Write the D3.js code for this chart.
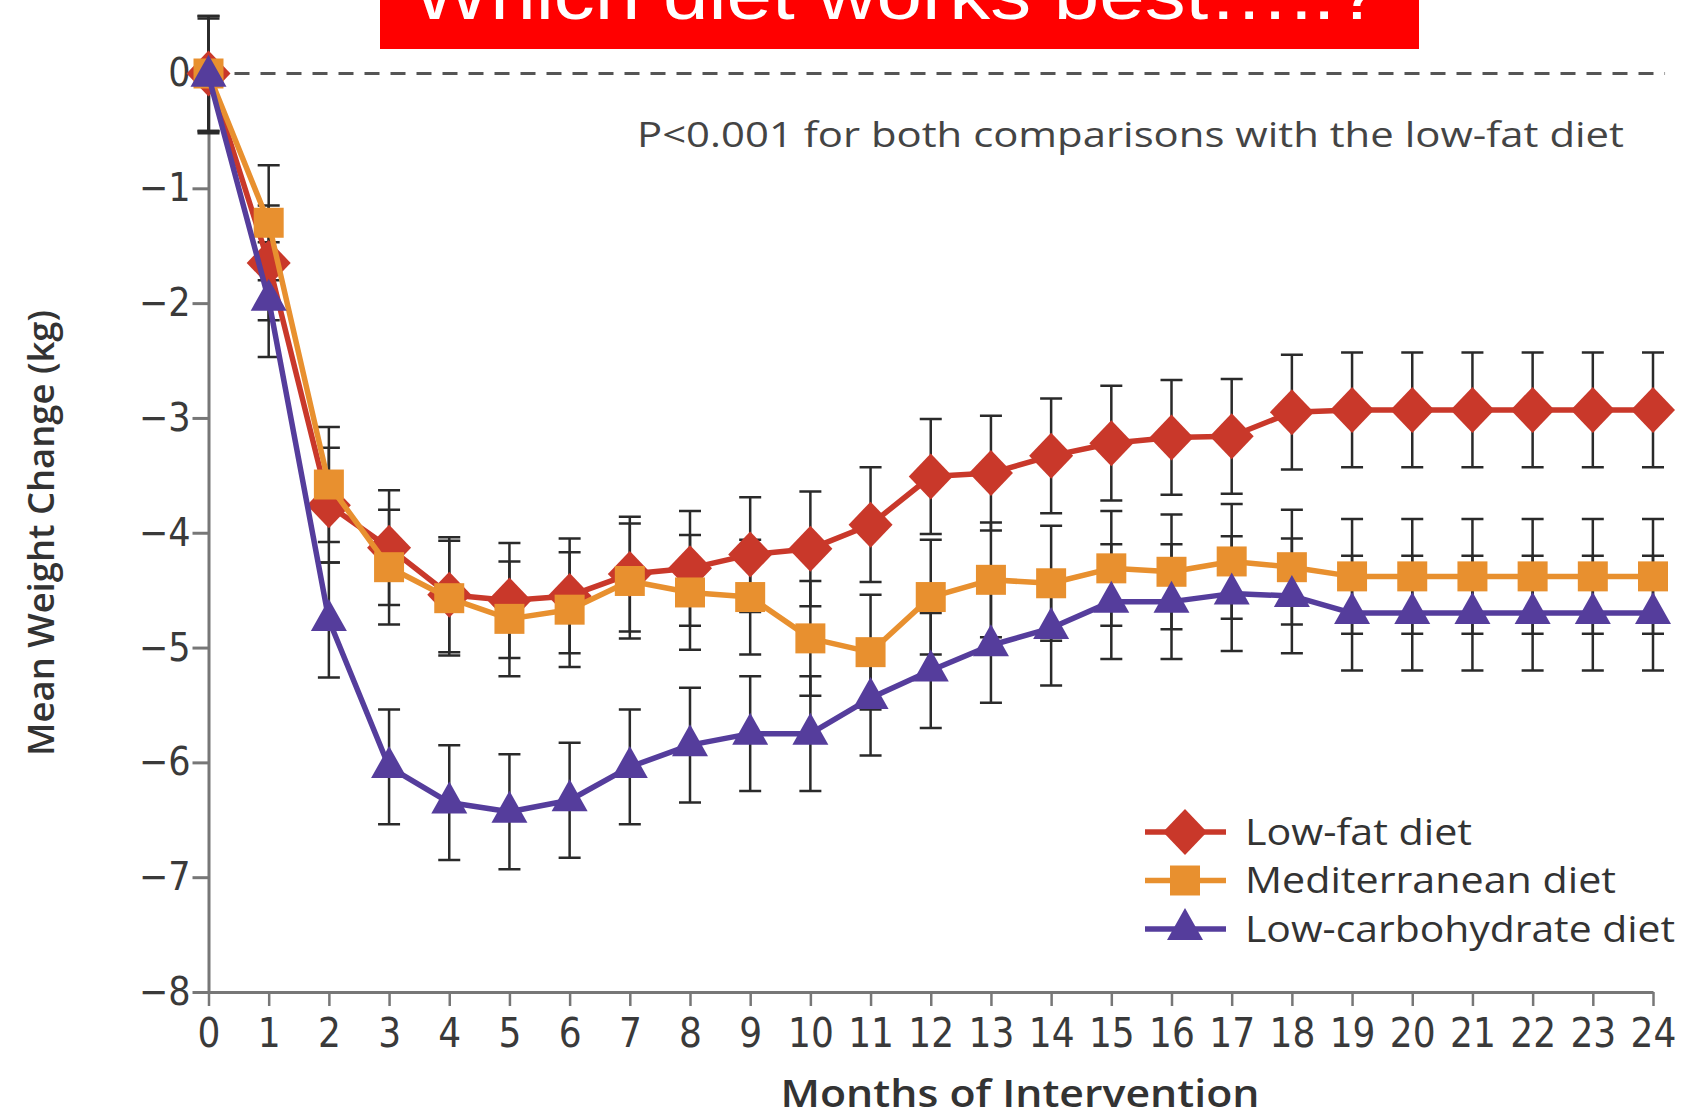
<!DOCTYPE html>
<html>
<head>
<meta charset="utf-8">
<script src="https://cdn.jsdelivr.net/npm/d3@7"></script>
<style>
  body { margin: 0; background: #fff; }
  svg { display: block; }
</style>
</head>
<body>
<svg id="chart" width="1694" height="1119"></svg>
<script>
// months on the x axis
const months = [0, 1, 2, 3, 4, 5, 6, 7, 8, 9, 10, 11, 12, 13, 14, 15, 16, 17, 18, 19, 20, 21, 22, 23, 24];
const yTicks = [0, -1, -2, -3, -4, -5, -6, -7, -8];

// mean weight change (kg)
const lowFat = [0, -1.65, -3.76, -4.13, -4.54, -4.59, -4.55, -4.36, -4.31, -4.19, -4.14, -3.93, -3.51, -3.48, -3.33, -3.22, -3.17, -3.16, -2.95, -2.93, -2.93, -2.93, -2.93, -2.93, -2.93];
const mediterranean = [0, -1.3, -3.58, -4.3, -4.57, -4.75, -4.67, -4.42, -4.52, -4.56, -4.92, -5.04, -4.56, -4.41, -4.44, -4.31, -4.34, -4.25, -4.3, -4.38, -4.38, -4.38, -4.38, -4.38, -4.38];
const lowCarb = [-0.02, -1.97, -4.76, -6.04, -6.35, -6.43, -6.33, -6.04, -5.85, -5.75, -5.75, -5.44, -5.2, -4.98, -4.83, -4.6, -4.6, -4.53, -4.55, -4.7, -4.7, -4.7, -4.7, -4.7, -4.7];

// half-length of error bars (kg)
const lowFatErr = [0.5, 0.5, 0.5, 0.5, 0.5, 0.5, 0.5, 0.5, 0.5, 0.5, 0.5, 0.5, 0.5, 0.5, 0.5, 0.5, 0.5, 0.5, 0.5, 0.5, 0.5, 0.5, 0.5, 0.5, 0.5];
const mediterraneanErr = [0.5, 0.5, 0.5, 0.5, 0.5, 0.5, 0.5, 0.5, 0.5, 0.5, 0.5, 0.5, 0.5, 0.5, 0.5, 0.5, 0.5, 0.5, 0.5, 0.5, 0.5, 0.5, 0.5, 0.5, 0.5];
const lowCarbErr = [0.5, 0.5, 0.5, 0.5, 0.5, 0.5, 0.5, 0.5, 0.5, 0.5, 0.5, 0.5, 0.5, 0.5, 0.5, 0.5, 0.5, 0.5, 0.5, 0.5, 0.5, 0.5, 0.5, 0.5, 0.5];

const seriesNames = ["Low-fat diet", "Mediterranean diet", "Low-carbohydrate diet"];
const legendWidths = [227, 371, 430];

const series = [
    { name: seriesNames[0], values: lowFat, err: lowFatErr, color: "#c9382a", shape: "diamond" },
    { name: seriesNames[1], values: mediterranean, err: mediterraneanErr, color: "#e8902f", shape: "square" },
    { name: seriesNames[2], values: lowCarb, err: lowCarbErr, color: "#553d9c", shape: "triangle" }
];

const svg = d3.select("#chart");

const x = d3.scaleLinear().domain([0, 24]).range([208.5, 1653]);
const y = d3.scaleLinear().domain([-8, 0]).range([992, 73.5]);

const tickFont = "'Liberation Sans Narrow', 'DejaVu Sans Condensed', 'Open Sans', sans-serif";
const textFont = "'Open Sans', 'Lato', sans-serif";
const axisColor = "#777";

// title banner
svg.append("rect")
    .attr("x", 380).attr("y", 0)
    .attr("width", 1039).attr("height", 49)
    .attr("fill", "#ff0000");

svg.append("text")
    .attr("x", 413).attr("y", 19)
    .attr("textLength", 968)
    .attr("lengthAdjust", "spacingAndGlyphs")
    .style("font-family", "'Liberation Sans', Arial, sans-serif")
    .style("font-size", "70px")
    .style("fill", "#fff")
    .text("Which diet works best\u2026..?");

// y axis
const yAxis = svg.append("g")
    .attr("transform", `translate(${x(0)},0)`)
    .call(d3.axisLeft(y).tickValues(yTicks).tickSize(16).tickSizeOuter(0)
        .tickFormat(d => d === 0 ? "0" : "\u2212" + Math.abs(d)));

yAxis.select(".domain").attr("stroke", axisColor).attr("stroke-width", 3);
yAxis.selectAll(".tick line").attr("stroke", axisColor).attr("stroke-width", 3);
yAxis.selectAll(".tick text")
    .attr("x", -18)
    .style("font-family", tickFont)
    .style("font-size", "39px")
    .style("fill", "#3a3a3a");

// x axis
const xAxis = svg.append("g")
    .attr("transform", `translate(0,${y(-8)})`)
    .call(d3.axisBottom(x).tickValues(months).tickSize(14).tickSizeOuter(0).tickFormat(d3.format("d")));

xAxis.select(".domain").attr("stroke", axisColor).attr("stroke-width", 3);
xAxis.selectAll(".tick line").attr("stroke", axisColor).attr("stroke-width", 2.5);
xAxis.selectAll(".tick text")
    .attr("y", 27)
    .style("font-family", tickFont)
    .style("font-size", "40px")
    .style("fill", "#3a3a3a");

// zero reference line
svg.append("line")
    .attr("x1", x(0)).attr("x2", x(24.2))
    .attr("y1", y(0)).attr("y2", y(0))
    .attr("stroke", "#555")
    .attr("stroke-width", 3)
    .attr("stroke-dasharray", "15,11");

// axis titles
svg.append("text")
    .attr("transform", `translate(40,533) rotate(-90)`)
    .attr("text-anchor", "middle")
    .attr("dominant-baseline", "central")
    .attr("textLength", 446)
    .attr("lengthAdjust", "spacingAndGlyphs")
    .style("font-family", textFont)
    .style("font-size", "36px")
    .style("font-weight", 600)
    .style("fill", "#333")
    .text("Mean Weight Change (kg)");

svg.append("text")
    .attr("x", 1020).attr("y", 1107)
    .attr("text-anchor", "middle")
    .attr("textLength", 479)
    .attr("lengthAdjust", "spacingAndGlyphs")
    .style("font-family", textFont)
    .style("font-size", "37px")
    .style("font-weight", 600)
    .style("fill", "#333")
    .text("Months of Intervention");

svg.append("text")
    .attr("x", 637).attr("y", 147)
    .attr("textLength", 987)
    .attr("lengthAdjust", "spacingAndGlyphs")
    .style("font-family", textFont)
    .style("font-size", "34px")
    .style("fill", "#444")
    .text("P<0.001 for both comparisons with the low-fat diet");

// marker shapes
function markerPath(shape) {
    const p = d3.path();
    if (shape === "diamond") {
        p.moveTo(0, -23); p.lineTo(22, 0); p.lineTo(0, 23); p.lineTo(-22, 0); p.closePath();
    } else if (shape === "square") {
        p.rect(-15, -15, 30, 30);
    } else {
        p.moveTo(0, -21); p.lineTo(18, 11); p.lineTo(-18, 11); p.closePath();
    }
    return p.toString();
}

// error bars
const capHalf = 11;
series.forEach(s => {
    const g = svg.append("g").attr("class", "err");
    const pts = months.map((m, i) => ({ m, v: s.values[i], e: s.err[i] }));
    g.selectAll("path")
        .data(pts)
        .join("path")
        .attr("d", d => {
            const cx = x(d.m), y1 = y(d.v + d.e), y2 = y(d.v - d.e);
            return `M${cx},${y1}V${y2}M${cx - capHalf},${y1}H${cx + capHalf}M${cx - capHalf},${y2}H${cx + capHalf}`;
        })
        .attr("fill", "none")
        .attr("stroke", "#2a2a2a")
        .attr("stroke-width", 2.5);
});

// lines and markers
const line = d3.line().x((d, i) => x(months[i])).y(d => y(d));

series.forEach(s => {
    svg.append("path")
        .datum(s.values)
        .attr("d", line)
        .attr("fill", "none")
        .attr("stroke", s.color)
        .attr("stroke-width", 5.5)
        .attr("stroke-linejoin", "round");

    svg.append("g")
        .selectAll("path")
        .data(s.values)
        .join("path")
        .attr("transform", (d, i) => `translate(${x(months[i])},${y(d)})`)
        .attr("d", markerPath(s.shape))
        .attr("fill", s.color);
});

// legend
const legend = svg.append("g").attr("transform", "translate(1145,832)");
series.forEach((s, i) => {
    const row = legend.append("g").attr("transform", `translate(0,${i * 48.5})`);
    row.append("line")
        .attr("x1", 0).attr("x2", 81)
        .attr("stroke", s.color)
        .attr("stroke-width", 5.5);
    row.append("path")
        .attr("transform", "translate(40,0)")
        .attr("d", markerPath(s.shape))
        .attr("fill", s.color);
    row.append("text")
        .attr("x", 100)
        .attr("dy", "0.35em")
        .attr("textLength", legendWidths[i])
        .attr("lengthAdjust", "spacingAndGlyphs")
        .style("font-family", textFont)
        .style("font-size", "36px")
        .style("fill", "#333")
        .text(s.name);
});
</script>
</body>
</html>
